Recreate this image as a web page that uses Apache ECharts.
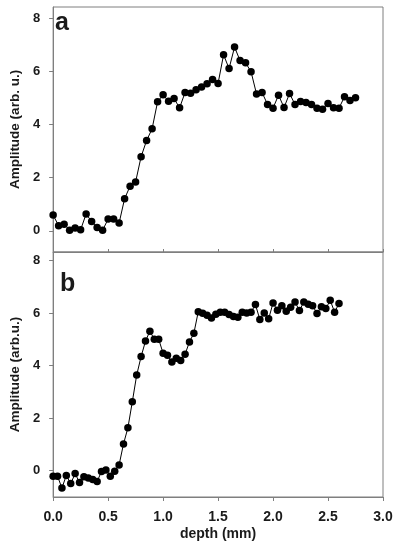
<!DOCTYPE html>
<html>
<head>
<meta charset="utf-8">
<script src="https://cdn.jsdelivr.net/npm/echarts@6/dist/echarts.min.js"></script>
<style>
html,body{margin:0;padding:0;background:#fff;}
#chart{width:398px;height:550px;}
</style>
</head>
<body>
<div id="chart"></div>
<script>
// Panel a: depth (mm) and amplitude (arb. u.)
var depthA = [0.00,0.05,0.10,0.15,0.20,0.25,0.30,0.35,0.40,0.45,0.50,0.55,0.60,0.65,0.70,0.75,0.80,0.85,0.90,0.95,
  1.00,1.05,1.10,1.15,1.20,1.25,1.30,1.35,1.40,1.45,1.50,1.55,1.60,1.65,1.70,1.75,1.80,1.85,1.90,1.95,
  2.00,2.05,2.10,2.15,2.20,2.25,2.30,2.35,2.40,2.45,2.50,2.55,2.60,2.65,2.70,2.75];
var ampA = [0.59,0.19,0.25,0.02,0.10,0.04,0.63,0.35,0.12,0.02,0.44,0.44,0.29,1.21,1.68,1.84,2.79,3.40,3.84,4.86,
  5.12,4.88,4.98,4.63,5.21,5.18,5.31,5.42,5.54,5.70,5.55,6.63,6.11,6.92,6.41,6.33,5.99,5.15,5.21,4.76,
  4.62,5.11,4.64,5.17,4.76,4.87,4.83,4.76,4.62,4.58,4.79,4.63,4.62,5.05,4.91,5.01];

// Panel b
var depthB = [0.00,0.04,0.08,0.12,0.16,0.20,0.24,0.28,0.32,0.36,0.40,0.44,0.48,0.52,0.56,0.60,0.64,0.68,0.72,0.76,
  0.80,0.84,0.88,0.92,0.96,1.00,1.04,1.08,1.12,1.16,1.20,1.24,1.28,1.32,1.36,1.40,1.44,1.48,1.52,1.56,
  1.60,1.64,1.68,1.72,1.76,1.80,1.84,1.88,1.92,1.96,2.00,2.04,2.08,2.12,2.16,2.20,2.24,2.28,2.32,2.36,
  2.40,2.44,2.48,2.52,2.56,2.60];
var ampB = [-0.21,-0.21,-0.66,-0.18,-0.49,-0.11,-0.45,-0.23,-0.28,-0.33,-0.41,-0.03,0.03,-0.21,-0.02,0.22,1.02,1.63,2.62,3.64,
  4.34,4.93,5.31,5.00,5.00,4.47,4.39,4.14,4.28,4.19,4.43,4.90,5.23,6.05,5.99,5.91,5.81,5.95,6.03,6.03,
  5.94,5.87,5.84,6.03,6.00,6.03,6.32,5.75,6.00,5.78,6.38,6.10,6.28,6.07,6.22,6.42,6.09,6.42,6.33,6.28,
  5.98,6.24,6.17,6.48,6.03,6.36];

var yTicks = [0, 2, 4, 6, 8];
var panelLabels = ['a', 'b'];
var yTitles = ['Amplitude (arb. u.)', 'Amplitude (arb.u.)'];
var xTitle = 'depth (mm)';

function zip(xs, ys) { return xs.map(function (x, i) { return [x, ys[i]]; }); }

var FONT = '"Liberation Sans", Arial, sans-serif';
var AX = '#7f7f7f';
var TXT = '#1a1a1a';

var chart = echarts.init(document.getElementById('chart'), null, {renderer: 'canvas'});

function yAxisCfg(gi, min, max, title) {
  return {
    type: 'value', gridIndex: gi, min: min, max: max,
    name: title, nameLocation: 'middle', nameGap: 28, nameRotate: 90,
    nameTextStyle: {fontFamily: FONT, fontWeight: 'bold', fontSize: 13.5, color: TXT},
    axisLine: {show: true, lineStyle: {color: AX, width: 1}},
    axisTick: {show: true, inside: false, length: 4, customValues: yTicks, lineStyle: {color: AX}},
    axisLabel: {customValues: yTicks, margin: 13, fontFamily: FONT, fontWeight: 'bold', fontSize: 13, color: TXT},
    splitLine: {show: false}
  };
}

var option = {
  backgroundColor: '#fff',
  animation: false,
  grid: [
    {left: 48, right: 15, top: 7, height: 245, show: true, borderColor: AX, borderWidth: 1},
    {left: 48, right: 15, top: 252, height: 245, show: true, borderColor: AX, borderWidth: 1}
  ],
  xAxis: [
    {type: 'value', gridIndex: 0, min: 0, max: 3, interval: 0.5,
     axisLine: {show: true, onZero: false, lineStyle: {color: AX}},
     axisTick: {show: true, inside: true, length: 3, lineStyle: {color: AX}},
     axisLabel: {show: false}, splitLine: {show: false}},
    {type: 'value', gridIndex: 1, min: 0, max: 3, interval: 0.5,
     name: xTitle, nameLocation: 'middle', nameGap: 30,
     nameTextStyle: {fontFamily: FONT, fontWeight: 'bold', fontSize: 14, color: TXT},
     axisLine: {show: true, onZero: false, lineStyle: {color: AX}},
     axisTick: {show: true, inside: false, length: 4, lineStyle: {color: AX}},
     axisLabel: {margin: 13, fontFamily: FONT, fontWeight: 'bold', fontSize: 14, color: TXT,
       formatter: function (v) { return v.toFixed(1); }},
     splitLine: {show: false}}
  ],
  yAxis: [
    yAxisCfg(0, -0.8, 8.43, yTitles[0]),
    yAxisCfg(1, -1, 8.32, yTitles[1])
  ],
  series: [
    {type: 'line', xAxisIndex: 0, yAxisIndex: 0, data: zip(depthA, ampA),
     symbol: 'circle', symbolSize: 7.5, showAllSymbol: true,
     itemStyle: {color: '#000'}, lineStyle: {color: '#000', width: 1}},
    {type: 'line', xAxisIndex: 1, yAxisIndex: 1, data: zip(depthB, ampB),
     symbol: 'circle', symbolSize: 7.5, showAllSymbol: true,
     itemStyle: {color: '#000'}, lineStyle: {color: '#000', width: 1}}
  ],
  graphic: [
    {type: 'text', left: 55, top: 11, style: {text: panelLabels[0], font: 'bold 25px ' + FONT, fill: TXT}},
    {type: 'text', left: 60, top: 272, style: {text: panelLabels[1], font: 'bold 25px ' + FONT, fill: TXT}}
  ]
};
chart.setOption(option);
</script>
</body>
</html>
